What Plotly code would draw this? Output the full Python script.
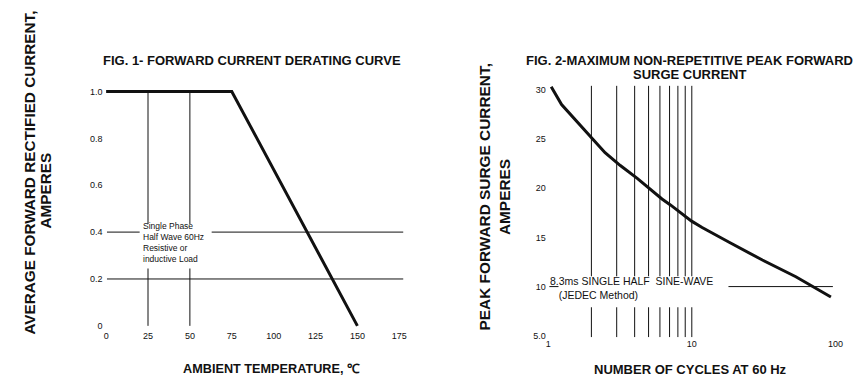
import math
import plotly.graph_objects as go

W, H = 861, 388          # reference picture size (px), used for placement
FIG_W = 869              # rendered width (compensates the capture's horizontal scaling)

# ---------------- Fig. 1 data ----------------
derate_temp = [0, 75, 150]
derate_current = [1.0, 1.0, 0.0]
fig1_xticks = [0, 25, 50, 75, 100, 125, 150, 175]
fig1_yticks = [0, 0.2, 0.4, 0.6, 0.8, 1.0]
fig1_ytick_text = ["0", "0.2", "0.4", "0.6", "0.8", "1.0"]
fig1_hgrid = [0.2, 0.4]
fig1_vgrid = [25, 50]
fig1_note = ["Single Phase", "Half Wave 60Hz", "Resistive or", "inductive Load"]

# ---------------- Fig. 2 data ----------------
surge_cycles = [1.05, 1.24, 2.07, 2.49, 3.18, 4.17, 6.2, 7.1, 9.97, 11.8, 18.2, 31, 53, 93]
surge_current = [30.3, 28.5, 24.9, 23.6, 22.3, 21.0, 18.9, 18.3, 16.65, 16.0, 14.5, 12.7, 11.0, 8.94]
fig2_xticks = [1, 10, 100]
fig2_xtick_text = ["1", "10", "100"]
fig2_yticks = [5, 10, 15, 20, 25, 30]
fig2_ytick_text = ["5.0", "10", "15", "20", "25", "30"]
fig2_vgrid = [2, 3, 4, 5, 6, 7, 8, 9, 10]
fig2_hgrid = [10]
fig2_note = ["8.3ms SINGLE HALF  SINE-WAVE", "   (JEDEC Method)"]

FONT = "Liberation Sans, Arial, Helvetica, sans-serif"
INK = "#111111"

fig = go.Figure()

# ---- Fig 1 grid lines ----
gx, gy = [], []
for v in fig1_hgrid:
    gx += [0.5, 177.5, None]
    gy += [v, v, None]
for v in fig1_vgrid:
    gx += [v, v, None]
    gy += [0, 1.0, None]
fig.add_trace(go.Scatter(x=gx, y=gy, mode="lines", line=dict(color=INK, width=1),
                         xaxis="x", yaxis="y", hoverinfo="skip", showlegend=False))
# white note box
fig.add_trace(go.Scatter(x=[20, 63, 63, 20, 20], y=[0.245, 0.245, 0.435, 0.435, 0.245],
                         mode="lines", fill="toself", fillcolor="white", line=dict(width=0),
                         xaxis="x", yaxis="y", hoverinfo="skip", showlegend=False))
# derating curve
fig.add_trace(go.Scatter(x=derate_temp, y=derate_current, mode="lines",
                         line=dict(color=INK, width=3), xaxis="x", yaxis="y", showlegend=False))

# ---- Fig 2 grid lines ----
gx, gy = [], []
for v in fig2_vgrid:
    gx += [v, v, None]
    gy += [4.87, 30.4, None]
for v in fig2_hgrid:
    gx += [1.02, 96, None]
    gy += [v, v, None]
fig.add_trace(go.Scatter(x=gx, y=gy, mode="lines", line=dict(color=INK, width=1),
                         xaxis="x2", yaxis="y2", hoverinfo="skip", showlegend=False))
fig.add_trace(go.Scatter(x=[1.18, 18, 18, 1.18, 1.18], y=[7.91, 7.91, 11.05, 11.05, 7.91],
                         mode="lines", fill="toself", fillcolor="white", line=dict(width=0),
                         xaxis="x2", yaxis="y2", hoverinfo="skip", showlegend=False))
fig.add_trace(go.Scatter(x=surge_cycles, y=surge_current, mode="lines",
                         line=dict(color=INK, width=3), xaxis="x2", yaxis="y2", showlegend=False))

def px(x):
    return x / W

def py(y):
    return 1 - y / H

tickfont = dict(family=FONT, size=9, color=INK)
axis_common = dict(showgrid=False, zeroline=False, showline=False, ticks="",
                   tickfont=tickfont, fixedrange=True)

fig.update_layout(
    width=FIG_W, height=H, autosize=False,
    margin=dict(l=0, r=0, t=0, b=0),
    paper_bgcolor="white", plot_bgcolor="white",
    showlegend=False,
    xaxis=dict(domain=[px(102.5), px(402)], range=[-1.5, 177.5], tickmode="array",
               tickvals=fig1_xticks, ticktext=[str(v) for v in fig1_xticks],
               anchor="y", ticklabelstandoff=-4, **axis_common),
    yaxis=dict(domain=[py(333.75), py(79.95)], range=[-0.03, 1.05], tickmode="array",
               tickvals=fig1_yticks, ticktext=fig1_ytick_text, anchor="x", **axis_common),
    xaxis2=dict(domain=[px(545.1), px(834.9)], type="log", range=[-0.01, 2.01],
                tickmode="array", tickvals=fig2_xticks, ticktext=fig2_xtick_text,
                anchor="y2", ticklabelstandoff=-3, **axis_common),
    yaxis2=dict(domain=[py(340.6), py(82.1)], range=[4.6, 30.8], tickmode="array",
                tickvals=fig2_yticks, ticktext=fig2_ytick_text, anchor="x2", **axis_common),
)

ann = []
def text(x, y, s, size, bold=False, angle=0, xref="paper", yref="paper", xanchor="center"):
    ann.append(dict(x=x, y=y, xref=xref, yref=yref, text=s, showarrow=False,
                    xanchor=xanchor, yanchor="middle", textangle=angle, align="left",
                    font=dict(family=FONT, size=size, color=INK,
                              weight="bold" if bold else "normal")))

# titles
text(px(250.8), py(60.7), "FIG. 1- FORWARD CURRENT DERATING CURVE", 13, True)
text(px(688), py(60.7), "FIG. 2-MAXIMUM NON-REPETITIVE PEAK FORWARD", 13, True)
text(px(688), py(74.3), "SURGE CURRENT", 13, True)
# axis titles
text(px(29), py(173), "AVERAGE FORWARD RECTIFIED CURRENT,", 15.3, True, -90)
text(px(44), py(191), "AMPERES", 15.3, True, -90)
text(px(483), py(197.4), "PEAK FORWARD SURGE CURRENT,", 15.4, True, -90)
text(px(503), py(198), "AMPERES", 15.4, True, -90)
text(px(270), py(370), "AMBIENT TEMPERATURE, ℃", 12.7, True)
text(px(689), py(370.7), "NUMBER OF CYCLES AT 60 Hz", 13, True)

# fig 1 note (one block)
text(21, 0.355, "<br>".join(fig1_note), 8.5, xref="x", yref="y", xanchor="left")
# fig 2 note (one block)
text(math.log10(1.0), 9.85, "<br>".join(fig2_note), 10.5, xref="x2", yref="y2", xanchor="left")

fig.update_layout(annotations=ann)
fig.write_html(
    "out.html",
    config={"responsive": False, "displayModeBar": False, "staticPlot": True},
    post_script="document.body.style.margin='0';",
)
